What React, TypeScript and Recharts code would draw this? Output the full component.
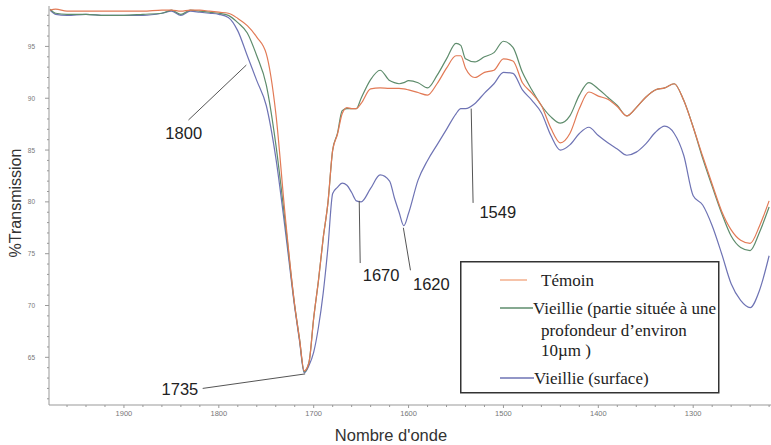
import { LineChart, Line, XAxis, YAxis, Legend, ReferenceLine, ReferenceDot } from 'recharts'

// wavenumbers (cm-1), left to right
const wavenumbers = [
  1978, 1972, 1960, 1940, 1920, 1900, 1880, 1860, 1850, 1840, 1830, 1820, 1810, 1800, 1790,
  1780, 1770, 1760, 1750, 1740, 1730, 1720, 1715, 1710, 1705, 1700, 1695, 1690, 1685, 1680,
  1675, 1670, 1665, 1660, 1655, 1650, 1640, 1630, 1620, 1615, 1610, 1605, 1600, 1590, 1580,
  1570, 1560, 1550, 1545, 1540, 1530, 1520, 1510, 1500, 1490, 1480, 1470, 1460, 1450, 1440,
  1430, 1420, 1410, 1400, 1390, 1380, 1370, 1360, 1350, 1340, 1330, 1320, 1310, 1300, 1290,
  1280, 1270, 1260, 1250, 1240, 1230, 1220,
]

const temoin = [
  98.5, 98.6, 98.4, 98.4, 98.4, 98.4, 98.4, 98.5, 98.5, 98.4, 98.5, 98.5, 98.4, 98.3, 98.2,
  97.7, 97.0, 95.9, 94.3, 88.6, 78.6, 70.0, 66.8, 63.7, 64.5, 68.8, 72.4, 76.5, 79.9, 85.0,
  86.5, 88.5, 89.1, 89.0, 89.0, 89.5, 90.9, 91.0, 90.95, 90.95, 90.95, 90.9, 90.8, 90.55, 90.3,
  91.4, 92.9, 94.1, 94.1, 92.9, 92.0, 92.5, 92.7, 93.8, 93.6, 91.5, 90.5, 89.3, 87.1, 85.7,
  86.6, 89.0, 90.6, 90.2, 89.9, 89.2, 88.3, 89.1, 90.1, 90.8, 91.0, 91.4, 89.8, 87.2, 84.4,
  81.7, 79.1, 77.3, 76.3, 76.0, 77.7, 80.1,
]

const vieillieProfondeur = [
  98.6, 98.2, 98.1, 98.1, 98.0, 98.0, 98.1, 98.2, 98.5, 98.1, 98.5, 98.4, 98.3, 98.2, 98.0,
  97.3, 96.3, 94.1, 91.3, 85.6, 78.0, 70.0, 66.8, 63.6, 64.5, 68.8, 72.4, 76.5, 79.9, 85.0,
  86.6, 88.8, 89.0, 89.0, 89.0, 90.0, 91.8, 92.7, 91.7, 91.5, 91.4, 91.5, 91.7, 91.5, 91.0,
  92.2, 93.8, 95.3, 95.1, 93.8, 93.5, 94.0, 94.4, 95.5, 94.9, 92.5, 90.8, 89.3, 88.2, 87.6,
  88.3, 90.3, 91.5, 90.9, 90.1, 89.3, 88.3, 89.1, 90.1, 90.8, 91.0, 91.4, 89.8, 87.2, 84.2,
  81.5, 78.9, 76.7, 75.6, 75.3, 77.1, 79.5,
]

const vieillieSurface = [
  98.5, 98.1, 98.0, 98.1, 98.0, 98.0, 98.0, 98.2, 98.4, 98.0, 98.4, 98.3, 98.2, 98.1, 97.8,
  96.5, 94.1, 91.7, 89.3, 84.3, 77.3, 69.8, 66.6, 63.5, 64.2, 65.5, 67.9, 71.2, 75.6, 80.8,
  81.4, 81.8, 81.6, 80.9, 80.1, 80.0, 81.3, 82.6, 82.0, 80.4, 79.0, 77.7, 78.9, 82.1, 84.0,
  85.5, 87.0, 88.5, 89.0, 89.0, 89.5, 90.5, 91.4, 92.5, 92.4, 90.8, 89.8, 88.6, 86.4, 85.0,
  85.5, 86.6, 87.2, 86.4, 85.7, 85.1, 84.5, 84.8, 85.6, 86.7, 87.3, 86.6, 84.5, 80.6, 79.7,
  77.7, 75.0, 72.1, 70.5, 69.8, 71.5, 74.8,
]

const xTicks = [
  1960, 1940, 1920, 1900, 1880, 1860, 1840, 1820, 1800, 1780, 1760, 1740, 1720, 1700, 1680,
  1660, 1640, 1620, 1600, 1580, 1560, 1540, 1520, 1500, 1480, 1460, 1440, 1420, 1400, 1380,
  1360, 1340, 1320, 1300, 1280, 1260, 1240, 1220,
]
const yTicks = [
  61, 62, 63, 64, 65, 66, 67, 68, 69, 70, 71, 72, 73, 74, 75, 76, 77, 78, 79, 80, 81, 82, 83,
  84, 85, 86, 87, 88, 89, 90, 91, 92, 93, 94, 95, 96, 97, 98,
]

// peak annotations: label, label point, line start, line end
const annotations = [
  { label: '1800', at: [1837, 86.6], from: [1832, 87.9], to: [1771, 93.2] },
  { label: '1735', at: [1841, 61.9], from: [1817, 62.0], to: [1709, 63.4] },
  { label: '1670', at: [1629, 72.9], from: [1651, 74.1], to: [1652, 80.1] },
  { label: '1620', at: [1576, 72.05], from: [1598, 73.4], to: [1605.5, 77.5] },
  { label: '1549', at: [1506, 79.0], from: [1532, 79.9], to: [1534, 89.0] },
]

const data = wavenumbers.map((wn, i) => ({
  wn,
  temoin: temoin[i],
  profondeur: vieillieProfondeur[i],
  surface: vieillieSurface[i],
}))

const ORANGE = '#e27a56'
const GREEN = '#5e8c6c'
const BLUE = '#6e73b4'

const XTick = ({ x, y, payload }: any) => {
  const major = payload.value % 100 === 0
  return (
    <g>
      <line x1={x} x2={x} y1={y} y2={y + (major ? 3 : 2)} stroke="#999" />
      {major && (
        <text x={x} y={y + 11} textAnchor="middle" fontSize={7.5} fill="#777" fontFamily="Liberation Sans, Arial">
          {payload.value}
        </text>
      )}
    </g>
  )
}

const YTick = ({ x, y, payload }: any) => {
  const major = payload.value % 5 === 0
  return (
    <g>
      <line x1={x - (major ? 4 : 2)} x2={x} y1={y} y2={y} stroke="#999" />
      {major && (
        <text x={35} y={y + 2.5} textAnchor="end" fontSize={6.5} fill="#777" fontFamily="Liberation Sans, Arial">
          {payload.value}
        </text>
      )}
    </g>
  )
}

const LegendBox = () => {
  const serif = 'Liberation Serif, Times New Roman, serif'
  return (
    <svg width={260} height={133} style={{ display: 'block' }}>
      <rect x={0.75} y={0.75} width={258} height={131} fill="#fff" stroke="#333" strokeWidth={1.5} />
      <line x1={40} x2={67} y1={19} y2={19} stroke="#f2a27a" strokeWidth={1.3} />
      <text x={81} y={19} dominantBaseline="central" fontSize={17} fontFamily={serif} fill="#222">Témoin</text>
      <line x1={40} x2={73} y1={47} y2={47} stroke={GREEN} strokeWidth={1.3} />
      <text x={73} y={47} dominantBaseline="central" fontSize={17} fontFamily={serif} fill="#222">Vieillie (partie située à une</text>
      <text x={81} y={69} dominantBaseline="central" fontSize={17} fontFamily={serif} fill="#222">profondeur d’environ</text>
      <text x={81} y={89} dominantBaseline="central" fontSize={17} fontFamily={serif} fill="#222">10µm )</text>
      <line x1={40} x2={74} y1={117} y2={117} stroke={BLUE} strokeWidth={1.3} />
      <text x={74} y={117} dominantBaseline="central" fontSize={17} fontFamily={serif} fill="#222">Vieillie (surface)</text>
    </svg>
  )
}

export default function App() {
  return (
    <div style={{ position: 'absolute', left: 0, top: 0, width: 771, height: 445, background: '#fff' }}>
      <LineChart width={771} height={445} data={data} margin={{ top: 6, right: 0, bottom: 0, left: 0 }}>
        <XAxis
          dataKey="wn"
          type="number"
          domain={[1218, 1979]}
          reversed
          allowDataOverflow
          ticks={xTicks}
          interval={0}
          height={40}
          tickSize={0}
          tickMargin={0}
          stroke="#999"
          tick={<XTick />}
          label={{
            content: () => (
              <text x={391} y={441} textAnchor="middle" fontSize={16.5} fill="#333" fontFamily="Liberation Sans, Arial">
                Nombre d'onde
              </text>
            ),
          }}
        />
        <YAxis
          type="number"
          domain={[60.4, 98.9]}
          allowDataOverflow
          ticks={yTicks}
          interval={0}
          width={49}
          tickSize={0}
          tickMargin={0}
          stroke="#999"
          tick={<YTick />}
          label={{
            content: () => (
              <text
                x={15}
                y={203}
                transform="rotate(-90 15 203)"
                textAnchor="middle"
                dominantBaseline="central"
                fontSize={16}
                fill="#333"
                fontFamily="Liberation Sans, Arial"
              >
                %Transmission
              </text>
            ),
          }}
        />
        <Legend
          layout="vertical"
          align="center"
          verticalAlign="middle"
          content={() => <LegendBox />}
          wrapperStyle={{ position: 'absolute', left: 460, top: 261, width: 260, height: 133 }}
        />
        <Line type="monotone" dataKey="surface" stroke={BLUE} strokeWidth={1.2} dot={false} isAnimationActive={false} />
        <Line type="monotone" dataKey="profondeur" stroke={GREEN} strokeWidth={1.2} dot={false} isAnimationActive={false} />
        <Line type="monotone" dataKey="temoin" stroke={ORANGE} strokeWidth={1.2} dot={false} isAnimationActive={false} />
        {annotations.map((a) => (
          <ReferenceLine
            key={`l-${a.label}`}
            segment={[{ x: a.from[0], y: a.from[1] }, { x: a.to[0], y: a.to[1] }]}
            stroke="#555"
            strokeWidth={1}
            ifOverflow="visible"
          />
        ))}
        {annotations.map((a) => (
          <ReferenceDot
            key={`t-${a.label}`}
            x={a.at[0]}
            y={a.at[1]}
            r={0}
            fill="none"
            stroke="none"
            ifOverflow="visible"
            label={{ value: a.label, position: 'center', fontSize: 16.5, fill: '#222', fontFamily: 'Liberation Sans, Arial' }}
          />
        ))}
      </LineChart>
    </div>
  )
}
